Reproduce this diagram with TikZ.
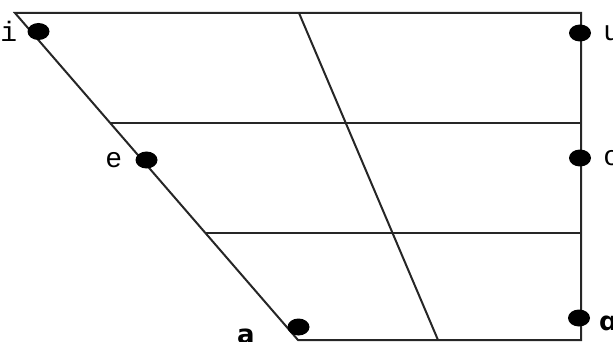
\documentclass[tikz,border=0pt]{standalone}
\usepackage{fontspec}
\newfontfamily\vmono{Liberation Mono}
\newfontfamily\vsans{DejaVu Sans}
\usetikzlibrary{positioning,shapes.geometric}
\tikzset{
  vline/.style={line width=2pt, black!85},
  vdot/.style={ellipse, fill=black, minimum width=22pt, minimum height=17pt, inner sep=0pt},
  vlabel/.style={inner sep=0pt, font=\vmono\fontsize{28}{28}\selectfont},
  vbold/.style={inner sep=0pt, font=\vsans\bfseries\fontsize{26}{26}\selectfont}
}

\begin{document}
\begin{tikzpicture}[x=1pt, y=-1pt]
  \useasboundingbox (0,0) rectangle (613,342);
  % corners of the chart
  \coordinate (tl) at (15,13);
  \coordinate (tr) at (581,13);
  \coordinate (bl) at (298,340);
  \coordinate (br) at (581,340);
  \coordinate (tm) at (299,13);
  \coordinate (bm) at (438,340);
  \coordinate (ml1) at (110,123.5);
  \coordinate (mr1) at (581,123.5);
  \coordinate (ml2) at (205,233);
  \coordinate (mr2) at (581,233);
  \draw[vline] (tl) -- (tr) -- (br) -- (bl) -- cycle;
  \draw[vline] (tm) -- (bm);
  \draw[vline] (ml1) -- (mr1);
  \draw[vline] (ml2) -- (mr2);
  % vowels
  \node[vdot] (idot) at (38.5,31.5) {};
  \node[vdot] (edot) at (146.5,160) {};
  \node[vdot] (adot) at (298.5,327) {};
  \node[vdot] (udot) at (580,33) {};
  \node[vdot] (odot) at (580,158) {};
  \node[vdot] (backdot) at (579,318) {};
  \node[vlabel, left=10pt of idot] (ilab) {i};
  \node[vlabel, left=13pt of edot] (elab) {e};
  \node[vlabel, right=12pt of udot] (ulab) {u};
  \node[vlabel, right=12pt of odot] (olab) {o};
  \node[vbold, anchor=north west] (alab) at (237,329) {a};
  \node[vbold, anchor=north west] (backlab) at (599,316) {ɑ};
\end{tikzpicture}
\end{document}
